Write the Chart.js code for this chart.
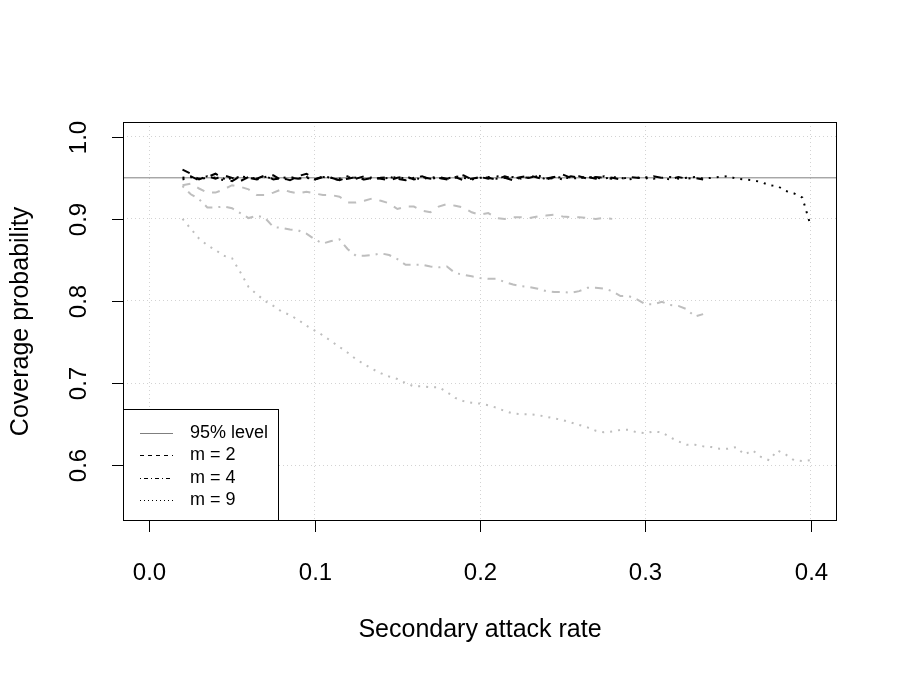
<!DOCTYPE html>
<html>
<head>
<meta charset="utf-8">
<script src="https://cdn.jsdelivr.net/npm/chart.js@4/dist/chart.umd.min.js"></script>
<style>
  html, body { margin: 0; padding: 0; background: #fff; }
</style>
</head>
<body>
<canvas id="chart" width="900" height="675"></canvas>
<script>
// secondary attack rate grid used by all curves
const sar = [
  0.020, 0.025, 0.030, 0.035, 0.040, 0.045, 0.050, 0.055, 0.060, 0.065,
  0.070, 0.075, 0.080, 0.085, 0.090, 0.095, 0.100, 0.105, 0.110, 0.115,
  0.120, 0.125, 0.130, 0.135, 0.140, 0.145, 0.150, 0.155, 0.160, 0.165,
  0.170, 0.175, 0.180, 0.185, 0.190, 0.195, 0.200, 0.205, 0.210, 0.215,
  0.220, 0.225, 0.230, 0.235, 0.240, 0.245, 0.250, 0.255, 0.260, 0.265,
  0.270, 0.275, 0.280, 0.285, 0.290, 0.295, 0.300, 0.305, 0.310, 0.315,
  0.320, 0.325, 0.330, 0.335, 0.340, 0.345, 0.350, 0.355, 0.360, 0.365,
  0.370, 0.375, 0.380, 0.385, 0.390, 0.395, 0.400
];

// grey curves
const greyM2 = [
  0.941, 0.943, 0.937, 0.932, 0.932, 0.936, 0.941, 0.939, 0.936, 0.929,
  0.929, 0.932, 0.936, 0.933, 0.931, 0.933, 0.931, 0.929, 0.929, 0.927,
  0.920, 0.920, 0.922, 0.925, 0.922, 0.919, 0.912, 0.915, 0.915, 0.910,
  0.908, 0.915, 0.918, 0.916, 0.914, 0.908, 0.905, 0.907, 0.901, 0.900,
  0.902, 0.902, 0.901, 0.903, 0.904, 0.905, 0.903, 0.902, 0.902, 0.901,
  0.900, 0.901, 0.900
];
const greyM4 = [
  0.940, 0.930, 0.924, 0.914, 0.914, 0.915, 0.913, 0.907, 0.901, 0.904,
  0.901, 0.890, 0.889, 0.887, 0.886, 0.882, 0.875, 0.870, 0.873, 0.875,
  0.863, 0.855, 0.855, 0.856, 0.858, 0.856, 0.851, 0.844, 0.844, 0.844,
  0.842, 0.841, 0.842, 0.834, 0.832, 0.830, 0.828, 0.827, 0.827, 0.823,
  0.820, 0.818, 0.817, 0.815, 0.812, 0.811, 0.811, 0.810, 0.812, 0.816,
  0.816, 0.815, 0.812, 0.806, 0.806, 0.802, 0.796, 0.796, 0.799, 0.795,
  0.794, 0.790, 0.781, 0.784
];
const greyM9 = [
  0.900, 0.888, 0.876, 0.868, 0.862, 0.855, 0.852, 0.835, 0.817, 0.808,
  0.800, 0.794, 0.787, 0.783, 0.777, 0.770, 0.764, 0.758, 0.751, 0.744,
  0.737, 0.729, 0.723, 0.717, 0.712, 0.708, 0.705, 0.700, 0.696, 0.696,
  0.695, 0.695, 0.689, 0.682, 0.678, 0.676, 0.675, 0.673, 0.670, 0.666,
  0.663, 0.662, 0.662, 0.661, 0.659, 0.657, 0.655, 0.652, 0.649, 0.646,
  0.642, 0.640, 0.641, 0.643, 0.643, 0.640, 0.639, 0.641, 0.640, 0.634,
  0.629, 0.625, 0.625, 0.623, 0.622, 0.620, 0.620, 0.622, 0.613, 0.618,
  0.610, 0.606, 0.618, 0.613, 0.606, 0.605, 0.606
];

// black curves
const blackM2 = [
  0.960, 0.955, 0.948, 0.952, 0.949, 0.953, 0.950, 0.946, 0.951, 0.949,
  0.953, 0.948, 0.950, 0.947, 0.952, 0.955, 0.948, 0.951, 0.950, 0.947,
  0.949, 0.951, 0.948, 0.950, 0.949, 0.947, 0.950, 0.952, 0.948, 0.951,
  0.949, 0.950, 0.948, 0.951, 0.947, 0.949, 0.951, 0.950, 0.948, 0.952,
  0.949, 0.951, 0.953, 0.950, 0.948, 0.951, 0.954, 0.950, 0.952, 0.949,
  0.951, 0.950, 0.949
];
const blackM4 = [
  0.950, 0.952, 0.947, 0.951, 0.955, 0.949, 0.946, 0.952, 0.950, 0.948,
  0.951, 0.953, 0.947, 0.950, 0.949, 0.951, 0.948, 0.952, 0.950, 0.947,
  0.951, 0.949, 0.952, 0.948, 0.950, 0.951, 0.949, 0.947, 0.950, 0.952,
  0.948, 0.951, 0.949, 0.950, 0.953, 0.948, 0.951, 0.949, 0.952, 0.950,
  0.947, 0.951, 0.950, 0.953, 0.949, 0.951, 0.948, 0.952, 0.950, 0.951,
  0.949, 0.952, 0.950, 0.948, 0.951, 0.950, 0.949, 0.952, 0.950, 0.948,
  0.951, 0.949, 0.950, 0.948
];
const blackM9 = [
  0.948, 0.951, 0.949, 0.952, 0.950, 0.947, 0.950, 0.951, 0.949, 0.950,
  0.952, 0.948, 0.950, 0.951, 0.949, 0.950, 0.948, 0.951, 0.950, 0.949,
  0.952, 0.950, 0.948, 0.951, 0.949, 0.950, 0.951, 0.949, 0.950, 0.948,
  0.951, 0.950, 0.949, 0.952, 0.950, 0.948, 0.950, 0.951, 0.949, 0.950,
  0.951, 0.949, 0.950, 0.952, 0.948, 0.950, 0.951, 0.949, 0.950, 0.951,
  0.950, 0.949, 0.951, 0.950, 0.948, 0.950, 0.951, 0.949, 0.950, 0.951,
  0.949, 0.950, 0.951, 0.949, 0.950, 0.951,
  0.952, 0.949, 0.948, 0.947, 0.945, 0.941, 0.940, 0.934, 0.931, 0.926, 0.892
];

const level = 0.95;
const xLimits = [-0.016, 0.416];
const yLimits = [0.532, 1.018];
const xTicks = [0, 0.1, 0.2, 0.3, 0.4];
const xTickLabels = ['0.0', '0.1', '0.2', '0.3', '0.4'];
const yTicks = [0.6, 0.7, 0.8, 0.9, 1.0];
const yTickLabels = ['0.6', '0.7', '0.8', '0.9', '1.0'];
const xTitle = 'Secondary attack rate';
const yTitle = 'Coverage probability';
const legendLabels = ['95% level', 'm = 2', 'm = 4', 'm = 9'];

const FONT = '"Liberation Sans", Arial, Helvetica, sans-serif';
const DASHED = [8, 8], DOTDASH = [2, 6, 8, 6], DOTTED = [2, 6];

const pts = ys => ys.map((y, i) => ({ x: sar[i], y: y }));

function curve(ys, color, dash, order) {
  return {
    data: pts(ys),
    borderColor: color,
    borderWidth: 2,
    borderDash: dash,
    borderCapStyle: 'butt',
    pointRadius: 0,
    fill: false,
    tension: 0,
    order: order
  };
}

// R style box, ticks, labels, titles and legend
const rFrame = {
  id: 'rFrame',
  afterDraw(chart) {
    const { ctx, chartArea: a, scales: { x, y } } = chart;
    ctx.save();
    ctx.strokeStyle = '#000';
    ctx.lineWidth = 1;
    ctx.strokeRect(a.left + 0.5, a.top + 0.5, a.right - a.left - 1, a.bottom - a.top - 1);

    ctx.fillStyle = '#000';
    ctx.font = '24px ' + FONT;
    ctx.textAlign = 'center';
    ctx.textBaseline = 'middle';
    xTicks.forEach((v, i) => {
      const px = Math.round(x.getPixelForValue(v)) + 0.5;
      ctx.beginPath();
      ctx.moveTo(px, a.bottom);
      ctx.lineTo(px, a.bottom + 11);
      ctx.stroke();
      ctx.fillText(xTickLabels[i], px, a.bottom + 52);
    });
    yTicks.forEach((v, i) => {
      const py = Math.round(y.getPixelForValue(v)) + 0.5;
      ctx.beginPath();
      ctx.moveTo(a.left, py);
      ctx.lineTo(a.left - 11, py);
      ctx.stroke();
      ctx.save();
      ctx.translate(a.left - 44, py);
      ctx.rotate(-Math.PI / 2);
      ctx.fillText(yTickLabels[i], 0, 0);
      ctx.restore();
    });

    ctx.font = '25px ' + FONT;
    ctx.fillText(xTitle, (a.left + a.right) / 2, a.bottom + 109);
    ctx.save();
    ctx.translate(21, (a.top + a.bottom) / 2);
    ctx.rotate(-Math.PI / 2);
    ctx.fillText(yTitle, 0, 0);
    ctx.restore();

    // legend, bottom left
    const lw = 155, lh = 112;
    const lx = a.left, ly = a.bottom - lh;
    ctx.fillStyle = '#fff';
    ctx.fillRect(lx, ly, lw, lh);
    ctx.strokeStyle = '#000';
    ctx.strokeRect(lx + 0.5, ly + 0.5, lw, lh - 1);
    const styles = [
      { color: '#7f7f7f', dash: [] },
      { color: '#000', dash: [4, 4] },
      { color: '#000', dash: [1, 3, 4, 3] },
      { color: '#000', dash: [1, 3] }
    ];
    ctx.font = '18px ' + FONT;
    ctx.textAlign = 'left';
    legendLabels.forEach((label, i) => {
      const ry = Math.round(ly + 24 + i * 22.4) + 0.5;
      ctx.strokeStyle = styles[i].color;
      ctx.setLineDash(styles[i].dash);
      ctx.beginPath();
      ctx.moveTo(lx + 17, ry);
      ctx.lineTo(lx + 50, ry);
      ctx.stroke();
      ctx.setLineDash([]);
      ctx.fillStyle = '#000';
      ctx.fillText(label, lx + 67, ry);
    });
    ctx.restore();
  }
};

const levelLine = {
  data: [{ x: xLimits[0], y: level }, { x: xLimits[1], y: level }],
  borderColor: '#7f7f7f',
  borderWidth: 1,
  pointRadius: 0,
  fill: false,
  order: 2
};

new Chart(document.getElementById('chart'), {
  type: 'line',
  data: {
    datasets: [
      curve(greyM2, '#bebebe', DASHED, 3),
      curve(greyM4, '#bebebe', DOTDASH, 3),
      curve(greyM9, '#bebebe', DOTTED, 3),
      levelLine,
      curve(blackM2, '#000', DASHED, 1),
      curve(blackM4, '#000', DOTDASH, 1),
      curve(blackM9, '#000', DOTTED, 1)
    ]
  },
  options: {
    responsive: false,
    animation: false,
    layout: { padding: { left: 123, right: 63, top: 122, bottom: 154 } },
    plugins: { legend: { display: false }, tooltip: { enabled: false } },
    scales: {
      x: {
        type: 'linear',
        min: xLimits[0],
        max: xLimits[1],
        afterBuildTicks: s => { s.ticks = xTicks.map(v => ({ value: v })); },
        afterFit: s => { s.height = 0; },
        ticks: { display: false },
        grid: { color: '#d3d3d3', lineWidth: 1, drawTicks: false },
        border: { display: false, dash: [1, 3] }
      },
      y: {
        type: 'linear',
        min: yLimits[0],
        max: yLimits[1],
        afterBuildTicks: s => { s.ticks = yTicks.map(v => ({ value: v })); },
        afterFit: s => { s.width = 0; },
        ticks: { display: false },
        grid: { color: '#d3d3d3', lineWidth: 1, drawTicks: false },
        border: { display: false, dash: [1, 3] }
      }
    }
  },
  plugins: [rFrame]
});
</script>
</body>
</html>
